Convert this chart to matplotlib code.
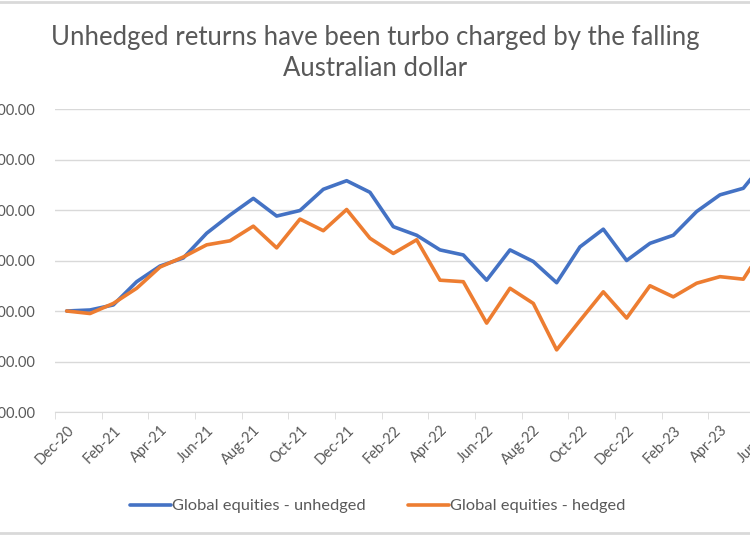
import matplotlib.pyplot as plt
from matplotlib.lines import Line2D

months = ["Dec-20", "Jan-21", "Feb-21", "Mar-21", "Apr-21", "May-21", "Jun-21", "Jul-21",
          "Aug-21", "Sep-21", "Oct-21", "Nov-21", "Dec-21", "Jan-22", "Feb-22", "Mar-22",
          "Apr-22", "May-22", "Jun-22", "Jul-22", "Aug-22", "Sep-22", "Oct-22", "Nov-22",
          "Dec-22", "Jan-23", "Feb-23", "Mar-23", "Apr-23", "May-23", "Jun-23"]

unhedged = [1000, 1002, 1012, 1058, 1089, 1105, 1154, 1190, 1223, 1188, 1199, 1241, 1258,
            1235, 1167, 1150, 1121, 1111, 1061, 1121, 1098, 1056, 1127, 1162, 1100, 1134,
            1150, 1197, 1230, 1243, 1300]
hedged = [1000, 995, 1015, 1045, 1087, 1107, 1131, 1139, 1168, 1125, 1182, 1159, 1201,
          1144, 1114, 1141, 1061, 1058, 976, 1045, 1015, 923, 981, 1038, 986, 1050,
          1028, 1055, 1068, 1063, 1135]

yticks = [800, 900, 1000, 1100, 1200, 1300, 1400]

grey = "#595959"
plt.rcParams['font.family'] = ['Lato', 'DejaVu Sans']

fig = plt.figure(figsize=(7.5, 5.36), dpi=100)
W, H = 750, 536
# axes runs off the right edge like the cropped original
ax = fig.add_axes([55 / W, (H - 412) / H, 723.3 / W, 303 / H])

x = list(range(len(months)))
ax.plot(x, unhedged, color="#4472C4", lw=2.6, label="Global equities - unhedged",
        solid_joinstyle="round", solid_capstyle="round")
ax.plot(x, hedged, color="#ED7D31", lw=2.6, label="Global equities - hedged",
        solid_joinstyle="round", solid_capstyle="round")

ax.set_xlim(-0.5, len(months) - 0.5)
ax.set_ylim(800, 1400)
ax.set_yticks(yticks)
ax.set_yticklabels([f"{v:,.2f}" for v in yticks])
ax.grid(axis="y", color="#d9d9d9", lw=1)
ax.set_axisbelow(True)
for s in ["top", "right", "left"]:
    ax.spines[s].set_visible(False)
ax.spines["bottom"].set_color("#d9d9d9")
ax.tick_params(axis="y", length=0, pad=14, labelsize=10.5, labelcolor=grey)

ax.set_xticks(x[::2])
ax.set_xticklabels(months[::2], rotation=45, ha="right", rotation_mode="anchor")
ax.set_xticks([i - 0.5 for i in range(0, len(months) + 1, 2)], minor=True)
ax.tick_params(axis="x", which="major", length=0, pad=8, labelsize=10.5, labelcolor=grey)
ax.tick_params(axis="x", which="minor", length=5, color="#d9d9d9")

fig.text(0.5, 1 - 53 / H, "Unhedged returns have been turbo charged by the falling\nAustralian dollar",
         ha="center", va="center", fontsize=18.5, color=grey, linespacing=1.3)

fig.legend(loc="center", bbox_to_anchor=(378 / W, 1 - 506 / H), ncol=2, frameon=False,
           fontsize=11.8, labelcolor=grey, handlelength=2.5, handletextpad=0.05,
           columnspacing=2.6)

fig.add_artist(Line2D([0, 1], [1 - 1.5 / H, 1 - 1.5 / H], color="#d9d9d9", lw=2))
fig.add_artist(Line2D([0, 1], [3 / H, 3 / H], color="#d9d9d9", lw=2))

fig.savefig("out.png", dpi=100)
